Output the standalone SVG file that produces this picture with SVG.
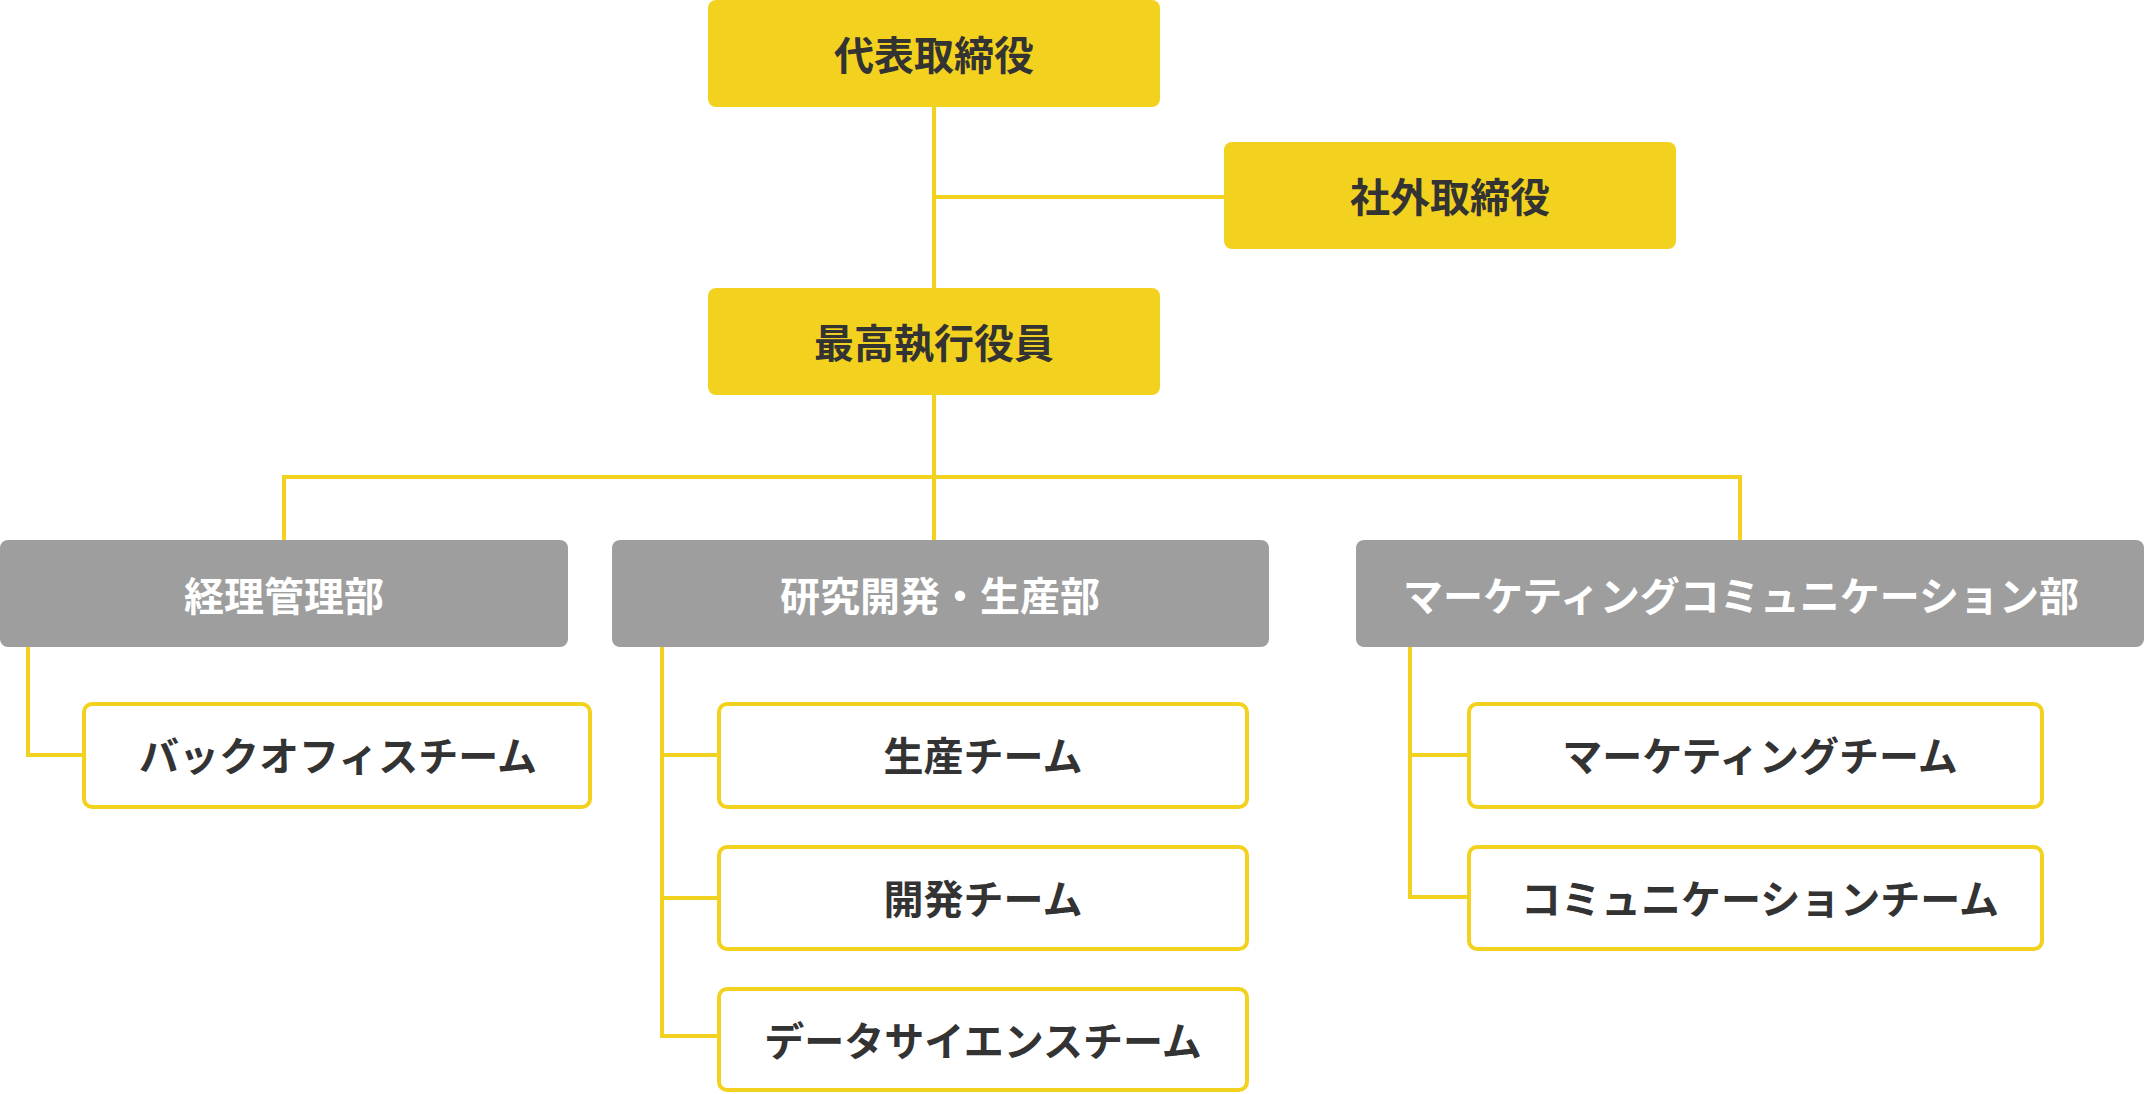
<svg xmlns="http://www.w3.org/2000/svg" width="2144" height="1094" viewBox="0 0 2144 1094">
<style>
.exec{fill:#F3D21F}
.dept{fill:#9E9E9E}
.team{fill:#FFFFFF;stroke:#F3D21F;stroke-width:4}
.t{font-family:"Noto Sans CJK JP","Noto Sans",sans-serif;font-size:40px;font-weight:700;text-anchor:middle}
.dk{fill:#333333}
.wh{fill:#FFFFFF}
.ln{fill:none;stroke:#F3D21F;stroke-width:4}
</style>
<rect width="2144" height="1094" fill="#FFFFFF"/>
<g id="connectors" class="ln">
<path d="M934 107V288"/>
<path d="M934 197H1224"/>
<path d="M934 395V540"/>
<path d="M284 540V477H1740V540"/>
<path d="M28 647V755H84"/>
<path d="M662 647V1036H719M662 755H719M662 898H719"/>
<path d="M1410 647V897H1469M1410 755H1469"/>
</g>
<g id="ceo"><rect class="exec" x="708" y="0" width="452" height="107" rx="8"/><text class="t dk" x="934" y="70">代表取締役</text></g>
<g id="outside-director"><rect class="exec" x="1224" y="142" width="452" height="107" rx="8"/><text class="t dk" x="1450" y="212">社外取締役</text></g>
<g id="coo"><rect class="exec" x="708" y="288" width="452" height="107" rx="8"/><text class="t dk" x="934" y="358">最高執行役員</text></g>
<g id="dept-accounting"><rect class="dept" x="0" y="540" width="568" height="107" rx="8"/><text class="t wh" x="284" y="611">経理管理部</text></g>
<g id="dept-rnd"><rect class="dept" x="612" y="540" width="657" height="107" rx="8"/><text class="t wh" x="940" y="611">研究開発・生産部</text></g>
<g id="dept-marcom"><rect class="dept" x="1356" y="540" width="788" height="107" rx="8"/><text class="t wh" x="1741" y="611">マーケティングコミュニケーション部</text></g>
<g id="team-backoffice"><rect class="team" x="84" y="704" width="506" height="103" rx="8"/><text class="t dk" x="338" y="771">バックオフィスチーム</text></g>
<g id="team-production"><rect class="team" x="719" y="704" width="528" height="103" rx="8"/><text class="t dk" x="983" y="771">生産チーム</text></g>
<g id="team-development"><rect class="team" x="719" y="847" width="528" height="102" rx="8"/><text class="t dk" x="983" y="914">開発チーム</text></g>
<g id="team-datascience"><rect class="team" x="719" y="989" width="528" height="101" rx="8"/><text class="t dk" x="983" y="1056">データサイエンスチーム</text></g>
<g id="team-marketing"><rect class="team" x="1469" y="704" width="573" height="103" rx="8"/><text class="t dk" x="1760" y="771">マーケティングチーム</text></g>
<g id="team-communication"><rect class="team" x="1469" y="847" width="573" height="102" rx="8"/><text class="t dk" x="1760" y="914">コミュニケーションチーム</text></g>
</svg>
